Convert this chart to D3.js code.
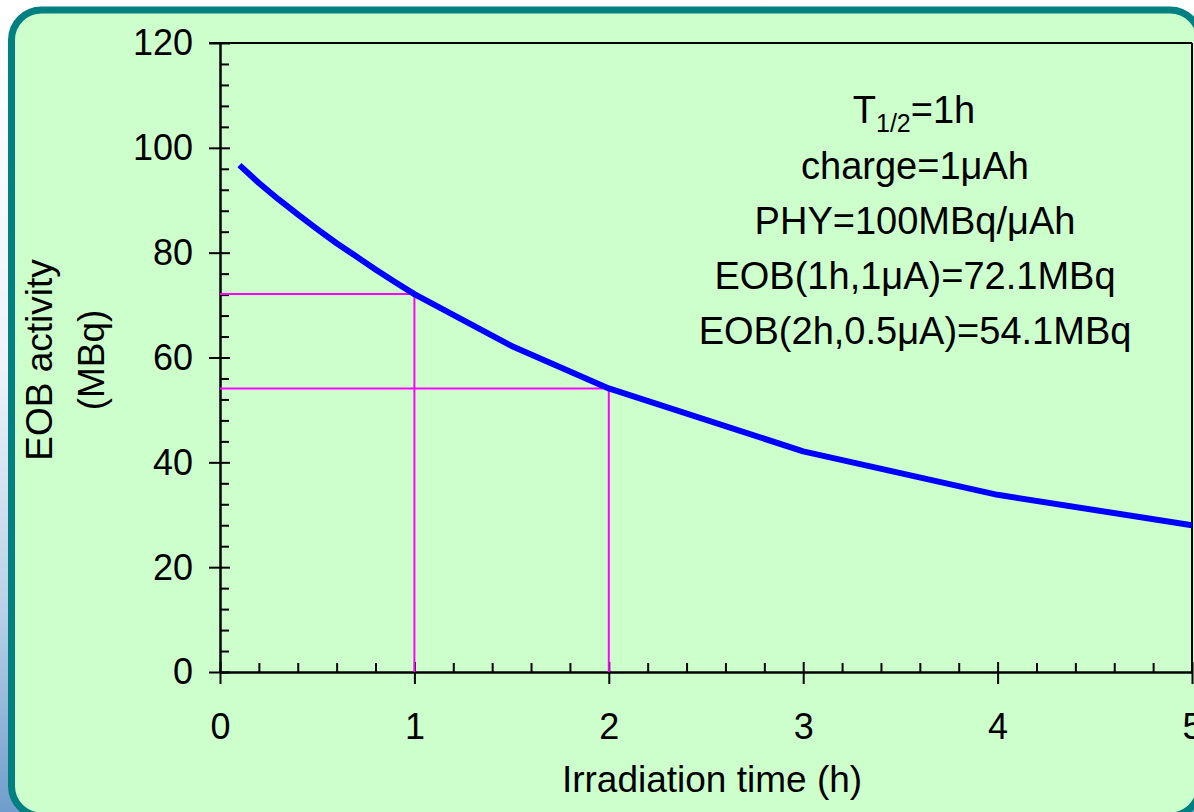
<!DOCTYPE html>
<html>
<head>
<meta charset="utf-8">
<script src="https://cdn.jsdelivr.net/npm/d3@7"></script>
<style>
  body { margin: 0; background: #fff; }
  svg { display: block; font-family: "Liberation Sans", Arial, sans-serif; }
</style>
</head>
<body>
<script>
// irradiation time (h) and EOB activity (MBq)
const times = [0.1, 0.2, 0.3, 0.4, 0.5, 0.6, 0.7, 0.8, 0.9, 1.0, 1.5, 2, 3, 4, 5];
const activity = [96.7, 93.3, 90.2, 87.3, 84.5, 81.8, 79.3, 76.8, 74.4, 72.1, 62.2, 54.1, 42.1, 33.8, 28.0];

// the two marked read-outs
const markTimes = [1, 2];
const markValues = [72.1, 54.1];

const xTicks = [0, 1, 2, 3, 4, 5];
const yTicks = [0, 20, 40, 60, 80, 100, 120];

const notes = ["charge=1\u03bcAh", "PHY=100MBq/\u03bcAh", "EOB(1h,1\u03bcA)=72.1MBq", "EOB(2h,0.5\u03bcA)=54.1MBq"];

const width = 1194, height = 812;
const svg = d3.select("body").append("svg")
    .attr("width", width)
    .attr("height", height);

const defs = svg.append("defs");
const grad = defs.append("linearGradient")
    .attr("id", "bg").attr("x1", 0).attr("y1", 0).attr("x2", 0).attr("y2", 1);
grad.append("stop").attr("offset", "0%").attr("stop-color", "#ffffff");
grad.append("stop").attr("offset", "45%").attr("stop-color", "#eef3f9");
grad.append("stop").attr("offset", "75%").attr("stop-color", "#b9d1e8");
grad.append("stop").attr("offset", "100%").attr("stop-color", "#6f9dcb");

svg.append("rect").attr("width", width).attr("height", height).attr("fill", "url(#bg)");

svg.append("rect")
    .attr("x", 11.5).attr("y", 10)
    .attr("width", 1188.5).attr("height", 806)
    .attr("rx", 30)
    .attr("fill", "#ccffcc")
    .attr("stroke", "#008080")
    .attr("stroke-width", 7);

const x = d3.scaleLinear().domain([0, 5]).range([220, 1192]);
const y = d3.scaleLinear().domain([0, 120]).range([672, 43]);

const g = svg.append("g");

// frame of the plot area (top and right)
g.append("line")
    .attr("x1", x(0) - 11).attr("x2", x(5))
    .attr("y1", y(120)).attr("y2", y(120))
    .attr("stroke", "#000").attr("stroke-width", 2);
g.append("line")
    .attr("x1", x(5)).attr("x2", x(5))
    .attr("y1", y(120)).attr("y2", y(0))
    .attr("stroke", "#000").attr("stroke-width", 2);

// minor ticks (inside)
const yMinor = d3.range(0, 121, 4).filter(v => v % 20 !== 0);
const xMinor = d3.range(0, 25).map(i => i * 0.2).filter(v => Math.abs(v - Math.round(v)) > 1e-6);

g.append("g")
    .attr("transform", `translate(${x(0)},0)`)
    .call(d3.axisRight(y).tickValues(yMinor).tickSize(9).tickFormat(""))
    .call(a => a.select(".domain").remove())
    .selectAll("line").attr("stroke-width", 2);

g.append("g")
    .attr("transform", `translate(0,${y(0)})`)
    .call(d3.axisTop(x).tickValues(xMinor).tickSize(9).tickFormat(""))
    .call(a => a.select(".domain").remove())
    .selectAll("line").attr("stroke-width", 2);

// major axes
const yAxis = g.append("g")
    .attr("transform", `translate(${x(0)},0)`)
    .call(d3.axisLeft(y).tickValues(yTicks).tickSize(11).tickPadding(16).tickSizeOuter(0));
yAxis.select(".domain").attr("stroke-width", 2.5);
yAxis.selectAll(".tick line").attr("x2", 10).attr("x1", -11).attr("stroke-width", 2);
yAxis.selectAll("text").attr("font-size", 36).attr("fill", "#000").attr("dy", "0.33em")
    .style("font-family", "'Liberation Sans', Arial, sans-serif");

const xAxis = g.append("g")
    .attr("transform", `translate(0,${y(0)})`)
    .call(d3.axisBottom(x).tickValues(xTicks).tickFormat(d3.format("d"))
        .tickSize(12).tickPadding(29).tickSizeOuter(0));
xAxis.select(".domain").attr("stroke-width", 2.5);
xAxis.selectAll(".tick line").attr("y1", -10).attr("y2", 12).attr("stroke-width", 2);
xAxis.selectAll("text").attr("font-size", 36).attr("fill", "#000")
    .style("font-family", "'Liberation Sans', Arial, sans-serif");

// magenta read-out lines
const marks = markTimes.map((t, i) => ({t: t, v: markValues[i]}));
g.selectAll(".hmark").data(marks).enter().append("line")
    .attr("x1", x(0)).attr("x2", d => x(d.t))
    .attr("y1", d => y(d.v)).attr("y2", d => y(d.v))
    .attr("stroke", "#ff00ff").attr("stroke-width", 2);
g.selectAll(".vmark").data(marks).enter().append("line")
    .attr("x1", d => x(d.t)).attr("x2", d => x(d.t))
    .attr("y1", d => y(d.v)).attr("y2", y(0))
    .attr("stroke", "#ff00ff").attr("stroke-width", 2);

// activity curve
const pts = times.map((t, i) => [t, activity[i]]);
g.append("path")
    .datum(pts)
    .attr("fill", "none")
    .attr("stroke", "#0000ff")
    .attr("stroke-width", 6)
    .attr("stroke-linejoin", "round")
    .attr("d", d3.line().x(d => x(d[0])).y(d => y(d[1])));

// axis titles
svg.append("text")
    .attr("x", 712).attr("y", 792)
    .attr("text-anchor", "middle")
    .attr("font-size", 37)
    .text("Irradiation time (h)");

const ylab = svg.append("text")
    .attr("transform", "translate(0,360) rotate(-90)")
    .attr("text-anchor", "middle")
    .attr("font-size", 37);
ylab.append("tspan").attr("x", 0).attr("y", 52).text("EOB activity");
ylab.append("tspan").attr("x", 0).attr("y", 104).text("(MBq)");

// annotation
const ann = svg.append("g").attr("font-size", 38).attr("text-anchor", "middle");
const t0 = ann.append("text").attr("x", 914).attr("y", 123);
t0.append("tspan").text("T");
t0.append("tspan").attr("font-size", 25).attr("dy", 9).text("1/2");
t0.append("tspan").attr("dy", -9).text("=1h");

ann.selectAll(".note").data(notes).enter().append("text")
    .attr("x", 915)
    .attr("y", (d, i) => 179 + i * 55)
    .text(d => d);
</script>
</body>
</html>
